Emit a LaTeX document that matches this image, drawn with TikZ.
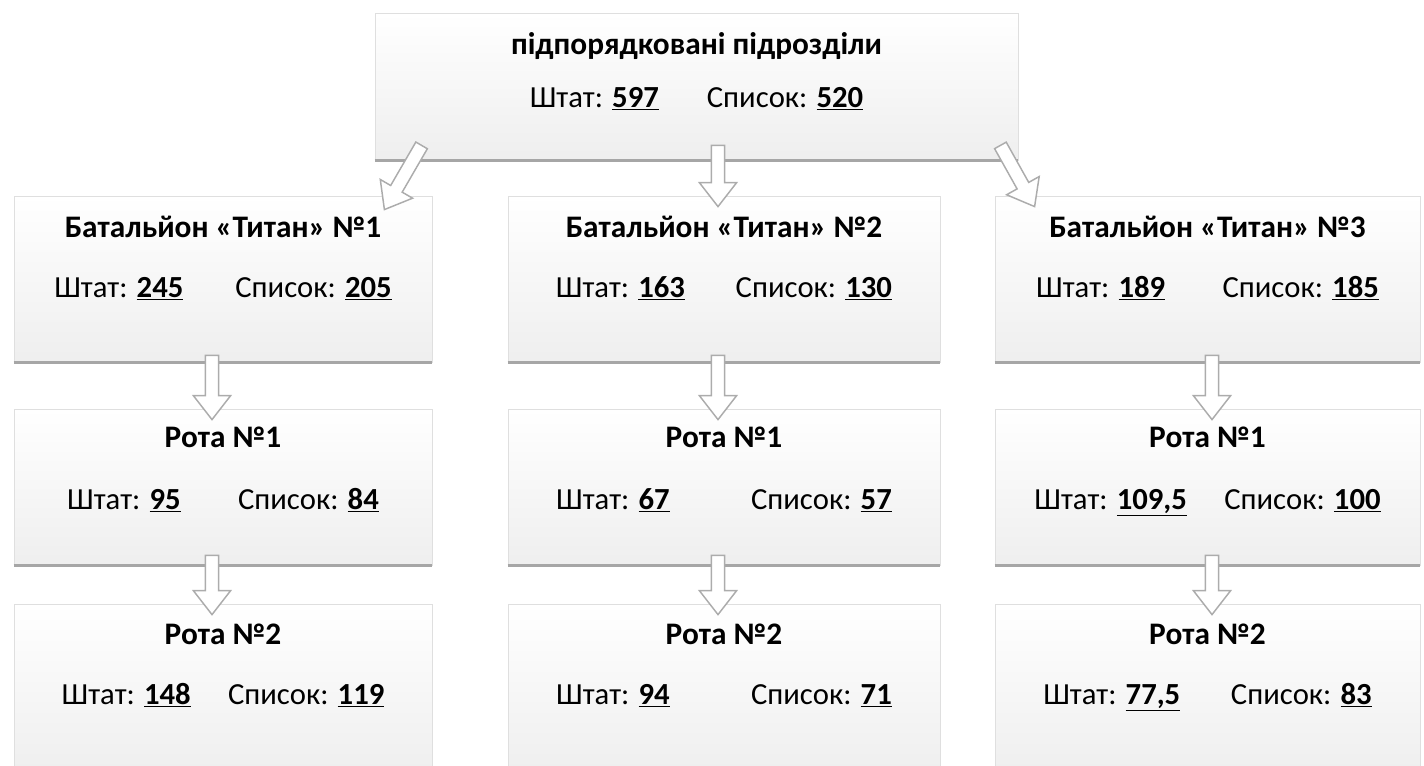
\documentclass[tikz,border=0pt]{standalone}
\usepackage{fontspec}
\setmainfont{Carlito}
\usetikzlibrary{calc,fit}

\tikzset{every picture/.style={line width=0.75pt}}
\tikzset{
  unitbox/.style={draw=gray!25, line width=0.6, top color=white, bottom color=gray!13, inner sep=0pt},
  boxtitle/.style={inner sep=0.75pt, text height=2.2ex, text depth=0.8ex, font=\fontsize{23.5}{28}\selectfont\bfseries},
  boxstats/.style={inner sep=0.75pt, text height=2.2ex, text depth=0.8ex, font=\fontsize{23}{28}\selectfont},
  shadowline/.style={draw=gray!70, line width=1.8},
  hollowarrow/.style={draw=gray!65, fill=white, line width=1.1, line join=miter},
}

% Штат / Список line, gap in pt
\newcommand{\statline}[3]{Штат: \underline{\textbf{#1}}\hspace{#3pt}Список: \underline{\textbf{#2}}}

% hollow block arrow from #1 to tip #2
\newcommand{\blockarrow}[2]{%
  \coordinate (ba-s) at #1;
  \coordinate (ba-t) at #2;
  \coordinate (ba-b) at ($(ba-t)!18pt!(ba-s)$);
  \draw [hollowarrow] ($(ba-s)!5pt!90:(ba-t)$) -- ($(ba-b)!5pt!90:(ba-t)$) -- ($(ba-b)!14pt!90:(ba-t)$) -- (ba-t)
    -- ($(ba-b)!14pt!-90:(ba-t)$) -- ($(ba-b)!5pt!-90:(ba-t)$) -- ($(ba-s)!5pt!-90:(ba-t)$) -- cycle ;
}

\begin{document}
\begin{tikzpicture}[x=0.75pt,y=0.75pt,yscale=-1,xscale=1]
\useasboundingbox (0,0) rectangle (1424,766);

% boxes
\node [unitbox, fit={(375,13) (1018,160)}] (top) {};
\node [unitbox, fit={(14,196) (432,362)}] (bat1) {};
\node [unitbox, fit={(508,196) (940,362)}] (bat2) {};
\node [unitbox, fit={(995,196) (1420,362)}] (bat3) {};
\node [unitbox, fit={(14,409) (432,565)}] (r11) {};
\node [unitbox, fit={(508,409) (940,565)}] (r21) {};
\node [unitbox, fit={(995,409) (1420,565)}] (r31) {};
\node [unitbox, fit={(14,604) (432,775)}] (r12) {};
\node [unitbox, fit={(508,604) (940,775)}] (r22) {};
\node [unitbox, fit={(995,604) (1420,775)}] (r32) {};

\foreach \b in {top,bat1,bat2,bat3,r11,r21,r31}
  \draw [shadowline] (\b.south west) -- (\b.south east) ;

% texts
\node [boxtitle] (top-t) at ($(top.north)+(0,37)$) {підпорядковані підрозділи};
\node [boxstats] (top-s) at ($(top.north)+(0,90)$) {\statline{597}{520}{36}};

\node [boxtitle] (bat1-t) at ($(bat1.north)+(0,37)$) {Батальйон «Титан» №1};
\node [boxstats] (bat1-s) at ($(bat1.north)+(0,97)$) {\statline{245}{205}{39}};
\node [boxtitle] (bat2-t) at ($(bat2.north)+(0,37)$) {Батальйон «Титан» №2};
\node [boxstats] (bat2-s) at ($(bat2.north)+(0,97)$) {\statline{163}{130}{38}};
\node [boxtitle] (bat3-t) at ($(bat3.north)+(0,37)$) {Батальйон «Титан» №3};
\node [boxstats] (bat3-s) at ($(bat3.north)+(0,97)$) {\statline{189}{185}{43}};

\node [boxtitle] (r11-t) at ($(r11.north)+(0,34)$) {Рота №1};
\node [boxstats] (r11-s) at ($(r11.north)+(0,96)$) {\statline{95}{84}{43}};
\node [boxtitle] (r21-t) at ($(r21.north)+(0,34)$) {Рота №1};
\node [boxstats] (r21-s) at ($(r21.north)+(0,96)$) {\statline{67}{57}{61}};
\node [boxtitle] (r31-t) at ($(r31.north)+(0,34)$) {Рота №1};
\node [boxstats] (r31-s) at ($(r31.north)+(0,96)$) {\statline{109,5}{100}{28}};

\node [boxtitle] (r12-t) at ($(r12.north)+(0,36)$) {Рота №2};
\node [boxstats] (r12-s) at ($(r12.north)+(0,96)$) {\statline{148}{119}{28}};
\node [boxtitle] (r22-t) at ($(r22.north)+(0,36)$) {Рота №2};
\node [boxstats] (r22-s) at ($(r22.north)+(0,96)$) {\statline{94}{71}{61}};
\node [boxtitle] (r32-t) at ($(r32.north)+(0,36)$) {Рота №2};
\node [boxstats] (r32-s) at ($(r32.north)+(0,96)$) {\statline{77,5}{83}{38}};

% arrows
\blockarrow{($(top.south west)+(47,-15)$)}{($(bat1.north east)+(-48,14)$)}
\blockarrow{($(top.south)+(21.5,-15)$)}{($(bat2.north)+(-6,11)$)}
\blockarrow{($(top.south east)+(-18,-15)$)}{($(bat3.north west)+(40,11)$)}

\blockarrow{($(bat1.south)+(-11,-7)$)}{($(r11.north)+(-11,11)$)}
\blockarrow{($(bat2.south)+(-6,-7)$)}{($(r21.north)+(-6,11)$)}
\blockarrow{($(bat3.south)+(4.5,-7)$)}{($(r31.north)+(4.5,11)$)}

\blockarrow{($(r11.south)+(-11,-10)$)}{($(r12.north)+(-11,11)$)}
\blockarrow{($(r21.south)+(-6,-10)$)}{($(r22.north)+(-6,11)$)}
\blockarrow{($(r31.south)+(4.5,-10)$)}{($(r32.north)+(4.5,11)$)}

\end{tikzpicture}
\end{document}
